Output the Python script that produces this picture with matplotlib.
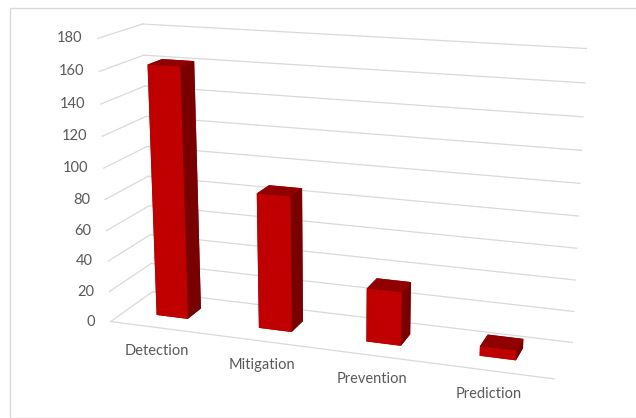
import matplotlib.pyplot as plt
from matplotlib.patches import Rectangle
from mpl_toolkits.mplot3d import proj3d

# category counts
categories = ['Detection', 'Mitigation', 'Prevention', 'Prediction']
counts = [162, 87, 34, 6]
z_ticks = [0, 20, 40, 60, 80, 100, 120, 140, 160, 180]

front_col = '#C00000'
top_col = '#900000'
side_col = '#780000'
grid_col = '#D9D9D9'
text_col = '#595959'

plt.rcParams['font.family'] = ['Lato', 'DejaVu Sans']

fig = plt.figure(figsize=(6.36, 4.18), dpi=100)
fig.patches.append(Rectangle((9.5 / 636, 0), 1, 1 - 7.5 / 418, transform=fig.transFigure,
                             fill=False, edgecolor=grid_col, linewidth=1.0))

ax = fig.add_axes([0.021, 0.028, 1.0, 1.0], projection='3d')
ax.computed_zorder = False
ax.set_axis_off()

n = len(categories)
x_max = n
z_max = z_ticks[-1]
ax.set_xlim(0, x_max)
ax.set_ylim(0, 1)
ax.set_zlim(0, z_max)
ax.set_box_aspect((4.85, 1.02, 3.1), zoom=1.31)
ax.view_init(elev=15.5, azim=-71)
ax.set_proj_type('persp', focal_length=0.625)

# wall gridlines: left side wall and back wall
for z in z_ticks:
    ax.plot([0, 0], [0, 1], [z, z], color=grid_col, lw=0.9, zorder=1, clip_on=False)
    ax.plot([0, x_max], [1, 1], [z, z], color=grid_col, lw=0.9, zorder=1, clip_on=False)
# category axis along the front of the floor
ax.plot([0, x_max], [0, 0], [0, 0], color=grid_col, lw=0.9, zorder=1, clip_on=False)

# bars: face order in bar3d is -z, +z, -y, +y, -x, +x
w = 0.31
d = 0.34
xs = [i + 0.47 - w / 2 for i in range(n)]
face_colors = []
for _ in range(n):
    face_colors += [top_col, top_col, front_col, front_col, side_col, side_col]
bars = ax.bar3d(xs, [0.34] * n, [0] * n, [w] * n, [d] * n, counts,
                color=face_colors, shade=False, zorder=2, linewidth=0)
bars.set_clip_on(False)

# labels are placed in 2D at the projected anchor points
M = ax.get_proj()


def at(x, y, z):
    px, py, _ = proj3d.proj_transform(x, y, z, M)
    return px, py


for z in z_ticks:
    ax.annotate(str(z), at(0, 0, z), xytext=(-11, 0), textcoords='offset points',
                ha='right', va='center', fontsize=10.5, color=text_col,
                annotation_clip=False)

for i, name in enumerate(categories):
    ax.annotate(name, at(i + 0.46, 0, 0), xytext=(0, -17), textcoords='offset points',
                ha='center', va='center', fontsize=10.5, color=text_col,
                annotation_clip=False)

fig.savefig('out.png', dpi=100)
